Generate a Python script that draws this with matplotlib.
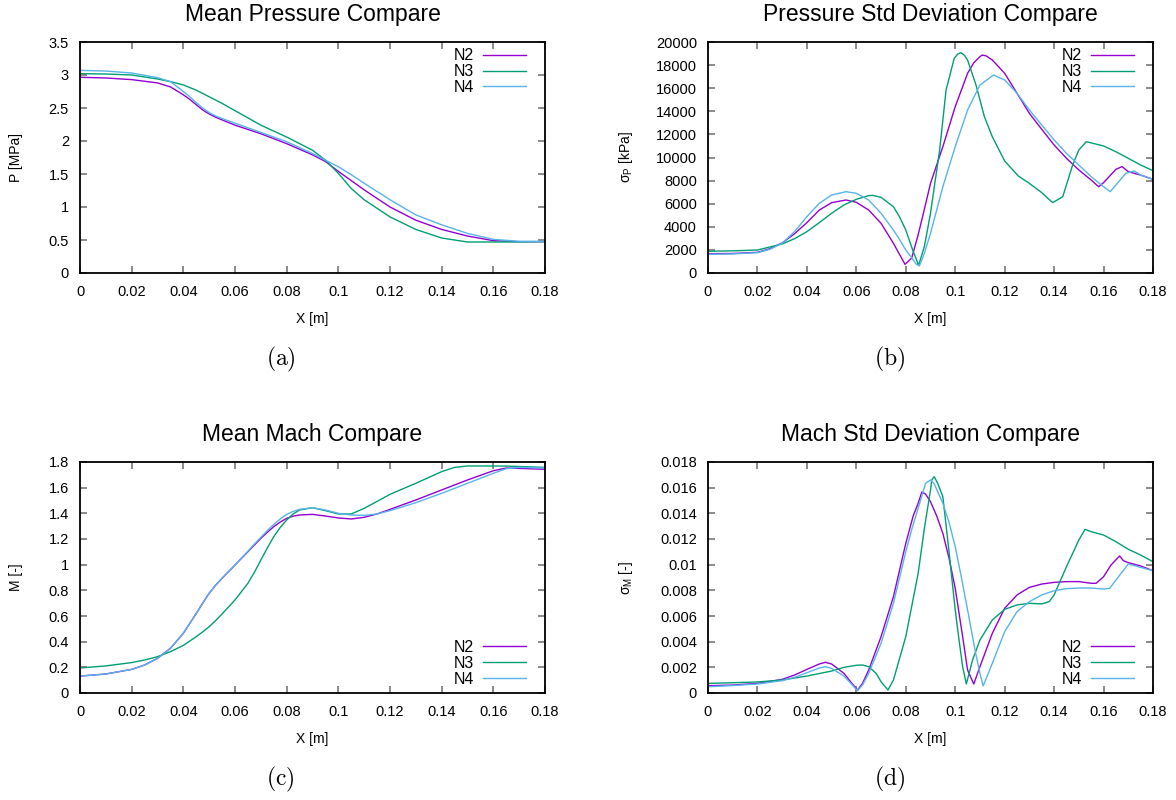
import matplotlib
matplotlib.use("Agg")
import matplotlib.pyplot as plt
from matplotlib.ticker import FormatStrFormatter, MultipleLocator

plt.rcParams['font.family'] = ['Liberation Sans', 'DejaVu Sans']
plt.rcParams['mathtext.fontset'] = 'custom'
plt.rcParams['mathtext.rm'] = 'Liberation Sans'
plt.rcParams['mathtext.it'] = 'Liberation Sans'

labels = ["N2", "N3", "N4"]
colors = ["#9400d3", "#009e73", "#56b4e9"]

# ---------- (a) Mean pressure [MPa] ----------
pa_x = [0, 0.01, 0.02, 0.03, 0.035, 0.04, 0.0425, 0.045, 0.0475, 0.05, 0.0525, 0.055, 0.06, 0.07,
        0.08, 0.09, 0.095, 0.1, 0.105, 0.11, 0.12, 0.13, 0.14, 0.15, 0.16, 0.17, 0.18]
pa_n2 = [2.965, 2.955, 2.93, 2.88, 2.82, 2.70, 2.63, 2.55, 2.47, 2.41, 2.36, 2.32, 2.24, 2.11,
         1.96, 1.79, 1.69, 1.54, 1.40, 1.26, 1.00, 0.80, 0.66, 0.56, 0.49, 0.475, 0.475]
pa_n3 = [3.02, 3.015, 3.00, 2.94, 2.90, 2.85, 2.81, 2.77, 2.72, 2.67, 2.62, 2.57, 2.46, 2.24,
         2.06, 1.86, 1.71, 1.51, 1.28, 1.11, 0.85, 0.66, 0.53, 0.47, 0.47, 0.47, 0.475]
pa_n4 = [3.07, 3.06, 3.03, 2.96, 2.90, 2.75, 2.67, 2.58, 2.50, 2.43, 2.38, 2.34, 2.27, 2.13,
         1.99, 1.81, 1.71, 1.61, 1.49, 1.36, 1.11, 0.88, 0.73, 0.60, 0.51, 0.48, 0.48]

# ---------- (b) Pressure std deviation [kPa] ----------
pb_x2 = [0, 0.01, 0.02, 0.025, 0.03, 0.035, 0.04, 0.045, 0.05, 0.0558, 0.06, 0.065, 0.07, 0.075,
         0.0775, 0.0797, 0.0824, 0.085, 0.0875, 0.09, 0.095, 0.1, 0.105, 0.1075, 0.11, 0.1109,
         0.1125, 0.115, 0.12, 0.125, 0.13, 0.135, 0.14, 0.145, 0.15, 0.155, 0.158, 0.16, 0.165,
         0.1675, 0.17, 0.175, 0.18]
pb_n2 = [1670, 1690, 1790, 2100, 2600, 3400, 4360, 5450, 6090, 6320, 6120, 5450, 4300, 2570,
         1600, 750, 1300, 3300, 5500, 7760, 10940, 14400, 17290, 18200, 18730, 18870,
         18800, 18440, 17290, 15560, 13820, 12440, 11080, 9930, 8920, 8050, 7470, 7820, 8980,
         9210, 8770, 8480, 8110]
pb_x3 = [0, 0.01, 0.02, 0.03, 0.035, 0.04, 0.045, 0.05, 0.055, 0.06, 0.065, 0.0667, 0.07, 0.075,
         0.0775, 0.08, 0.0828, 0.0852, 0.0875, 0.09, 0.0937, 0.0963, 0.0996, 0.101, 0.1023,
         0.1037, 0.105, 0.1084, 0.1118, 0.115, 0.12, 0.1255, 0.13, 0.135, 0.1375, 0.1395,
         0.1435, 0.1475, 0.15, 0.153, 0.16, 0.165, 0.17, 0.175, 0.18]
pb_n3 = [1880, 1920, 1990, 2510, 2970, 3580, 4360, 5170, 5890, 6380, 6700, 6720, 6550, 5740,
         4850, 3720, 1990, 660, 2280, 5170, 10650, 15840, 18590, 18950, 19080,
         18850, 18440, 16280, 13530, 11800, 9700, 8400, 7760, 6960, 6450, 6100,
         6610, 9350, 10650, 11370, 11000, 10500, 9930, 9350, 8860]
pb_x4 = [0, 0.01, 0.02, 0.025, 0.03, 0.035, 0.04, 0.045, 0.05, 0.0558, 0.06, 0.065, 0.07, 0.075,
         0.0775, 0.08, 0.0825, 0.0842, 0.0855, 0.0875, 0.09, 0.095, 0.1, 0.105, 0.11, 0.1155,
         0.12, 0.125, 0.13, 0.135, 0.14, 0.145, 0.15, 0.155, 0.16, 0.1627, 0.165, 0.169, 0.1725,
         0.175, 0.18]
pb_n4 = [1620, 1650, 1760, 2050, 2570, 3580, 4880, 6030, 6750, 7040, 6900, 6320, 5170, 3720,
         2900, 1990, 1300, 780, 610, 1700, 3430, 7470, 10940, 14110, 16280, 17140,
         16710, 15560, 14110, 12810, 11520, 10360, 9350, 8340, 7470, 7040, 7620, 8630, 8830,
         8480, 8110]

# ---------- (c) Mean Mach [-] ----------
mc_x = [0, 0.01, 0.02, 0.025, 0.03, 0.035, 0.04, 0.045, 0.0475, 0.05, 0.0525, 0.055, 0.06, 0.065,
        0.0675, 0.07, 0.0725, 0.075, 0.0775, 0.08, 0.0825, 0.085, 0.09, 0.095, 0.1, 0.105, 0.11,
        0.115, 0.12, 0.13, 0.14, 0.145, 0.15, 0.16, 0.165, 0.17, 0.18]
mc_n2 = [0.132, 0.148, 0.184, 0.218, 0.27, 0.348, 0.465, 0.62, 0.70, 0.777, 0.84, 0.894, 0.997,
         1.101, 1.153, 1.205, 1.252, 1.296, 1.332, 1.361, 1.378, 1.387, 1.392, 1.379, 1.364,
         1.356, 1.369, 1.395, 1.431, 1.504, 1.582, 1.621, 1.66, 1.732, 1.753, 1.75, 1.743]
mc_n3 = [0.195, 0.211, 0.237, 0.257, 0.283, 0.322, 0.371, 0.439, 0.476, 0.517, 0.564, 0.616,
         0.725, 0.855, 0.94, 1.036, 1.13, 1.218, 1.29, 1.348, 1.395, 1.426, 1.444, 1.421, 1.395,
         1.395, 1.439, 1.493, 1.548, 1.634, 1.725, 1.758, 1.769, 1.769, 1.768, 1.765, 1.758]
mc_n4 = [0.132, 0.148, 0.184, 0.218, 0.27, 0.348, 0.465, 0.62, 0.70, 0.777, 0.84, 0.894, 0.997,
         1.105, 1.16, 1.213, 1.265, 1.314, 1.356, 1.392, 1.415, 1.431, 1.444, 1.426, 1.40,
         1.387, 1.384, 1.395, 1.421, 1.483, 1.556, 1.595, 1.634, 1.712, 1.748, 1.758, 1.753]

# ---------- (d) Mach std deviation [-] ----------
md_x2 = [0, 0.01, 0.02, 0.03, 0.035, 0.04, 0.045, 0.0475, 0.05, 0.055, 0.058, 0.0605, 0.0625,
         0.065, 0.07, 0.075, 0.08, 0.083, 0.085, 0.0865, 0.088, 0.09, 0.0925, 0.095, 0.0975,
         0.1, 0.103, 0.105, 0.1075, 0.11, 0.115, 0.12, 0.125, 0.13, 0.135, 0.14, 0.145, 0.15,
         0.155, 0.157, 0.16, 0.163, 0.1665, 0.168, 0.17, 0.175, 0.18]
md_n2 = [0.00057, 0.00062, 0.00075, 0.00106, 0.0014, 0.00184, 0.00226, 0.00239, 0.00226, 0.00153,
         0.0008, 0.00023, 0.00075, 0.00179, 0.00439, 0.0075, 0.01166, 0.0138, 0.01478, 0.01566,
         0.0155, 0.01491, 0.0138, 0.01244, 0.0105, 0.00816, 0.00439, 0.00179, 0.0007, 0.00205,
         0.00465, 0.0066, 0.00764, 0.00823, 0.00849, 0.00862, 0.00868, 0.00868, 0.00855,
         0.00855, 0.00906, 0.00997, 0.01068, 0.01031, 0.01016, 0.0099, 0.00953]
md_x3 = [0, 0.01, 0.02, 0.03, 0.04, 0.05, 0.055, 0.06, 0.0625, 0.065, 0.068, 0.07, 0.0728,
         0.075, 0.08, 0.085, 0.0875, 0.09, 0.0905, 0.0915, 0.093, 0.095, 0.0975, 0.1, 0.1015,
         0.103, 0.1045, 0.107, 0.11, 0.115, 0.12, 0.125, 0.13, 0.135, 0.138, 0.14, 0.145, 0.15,
         0.1525, 0.155, 0.16, 0.165, 0.17, 0.175, 0.18]
md_n3 = [0.00075, 0.0008, 0.00086, 0.00101, 0.00132, 0.00171, 0.002, 0.00216, 0.00218, 0.00205,
         0.00153, 0.00088, 0.00023, 0.00101, 0.00439, 0.00932, 0.0128, 0.01582, 0.0166, 0.01686,
         0.0163, 0.0153, 0.011, 0.00647, 0.0042, 0.00205, 0.0007, 0.00257, 0.00413, 0.00569,
         0.00652, 0.00686, 0.00699, 0.00694, 0.00712, 0.00764, 0.00984, 0.01192, 0.01275,
         0.01257, 0.01231, 0.01179, 0.0112, 0.01075, 0.01023]
md_x4 = [0, 0.01, 0.02, 0.03, 0.035, 0.04, 0.045, 0.0475, 0.05, 0.055, 0.058, 0.0605, 0.0625,
         0.065, 0.07, 0.075, 0.08, 0.0825, 0.085, 0.088, 0.09, 0.0915, 0.095, 0.0975, 0.1,
         0.1025, 0.105, 0.108, 0.11, 0.1113, 0.115, 0.12, 0.125, 0.13, 0.135, 0.14, 0.145, 0.15,
         0.155, 0.16, 0.1625, 0.165, 0.17, 0.175, 0.18]
md_n4 = [0.00049, 0.00058, 0.0007, 0.00096, 0.00122, 0.00158, 0.00195, 0.00205, 0.00192,
         0.00132, 0.0007, 0.00018, 0.00062, 0.00153, 0.00387, 0.00699, 0.01101, 0.0128,
         0.01439, 0.01634, 0.0166, 0.0163, 0.01478, 0.0133, 0.0114, 0.009, 0.00647, 0.00335,
         0.00153, 0.00055, 0.00231, 0.00478, 0.00634, 0.00712, 0.00764, 0.00797, 0.00813,
         0.00818, 0.00818, 0.0081, 0.00816, 0.0088, 0.01005, 0.00979, 0.00953]

panels = [
    dict(rect=[80, 42, 545, 273], title="Mean Pressure Compare", ylabel="P [MPa]",
         series=[(pa_x, pa_n2), (pa_x, pa_n3), (pa_x, pa_n4)], ylim=(0, 3.5), ystep=0.5,
         legloc="upper right", tag="(a)", ylab_off=64, tag_dx=-32),
    dict(rect=[708, 42, 1153, 273], title="Pressure Std Deviation Compare",
         ylabel=r"$\sigma_P$ [kPa]",
         series=[(pb_x2, pb_n2), (pb_x3, pb_n3), (pb_x4, pb_n4)], ylim=(0, 20000), ystep=2000,
         legloc="upper right", tag="(b)", ylab_off=82, tag_dx=-41),
    dict(rect=[80, 462, 545, 693], title="Mean Mach Compare", ylabel="M [-]",
         series=[(mc_x, mc_n2), (mc_x, mc_n3), (mc_x, mc_n4)], ylim=(0, 1.8), ystep=0.2,
         legloc="lower right", tag="(c)", ylab_off=64, tag_dx=-32),
    dict(rect=[708, 462, 1153, 693], title="Mach Std Deviation Compare",
         ylabel=r"$\sigma_M$ [-]",
         series=[(md_x2, md_n2), (md_x3, md_n3), (md_x4, md_n4)], ylim=(0, 0.018), ystep=0.002,
         legloc="lower right", tag="(d)", ylab_off=82, tag_dx=-41),
]

W, H = 1176, 800
fig = plt.figure(figsize=(W / 100, H / 100), dpi=100)

for i, p in enumerate(panels):
    l, t, r, b = p["rect"]
    aw, ah = r - l, b - t
    ax = fig.add_axes([l / W, 1 - b / H, aw / W, ah / H])
    for (xs, ys), lab, c in zip(p["series"], labels, colors):
        ax.plot(xs, ys, color=c, lw=1.0, label=lab)
    ax.set_xlim(0, 0.18)
    ax.set_ylim(*p["ylim"])
    ax.xaxis.set_major_locator(MultipleLocator(0.02))
    ax.yaxis.set_major_locator(MultipleLocator(p["ystep"]))
    ax.xaxis.set_major_formatter(FormatStrFormatter("%g"))
    ax.yaxis.set_major_formatter(FormatStrFormatter("%g"))
    ax.tick_params(direction="in", length=5, width=1.2, color="#777777", labelsize=10.5,
                   labelcolor="black", top=True, right=True)
    ax.tick_params(axis="x", pad=9)
    ax.tick_params(axis="y", pad=8)
    for s in ax.spines.values():
        s.set_linewidth(1.3)
        s.set_color("black")
    ax.set_title(p["title"], fontsize=16.5, pad=0, y=1 + 28 / ah, va="center")
    ax.set_xlabel("X [m]", fontsize=10)
    ax.xaxis.set_label_coords(0.5, -46 / ah)
    ax.xaxis.label.set_va("center")
    ax.set_ylabel(p["ylabel"], fontsize=10)
    ax.yaxis.set_label_coords(-p["ylab_off"] / aw, 0.5)
    ax.yaxis.label.set_va("center")
    ax_x = 1 - 12.6 / aw
    if p["legloc"] == "upper right":
        ax.legend(loc="upper right", frameon=False, markerfirst=False, fontsize=11.5,
                  handlelength=2.7, handletextpad=0.55, labelspacing=0.05,
                  borderaxespad=0.0, bbox_to_anchor=(ax_x, 1.0))
    else:
        ax.legend(loc="lower right", frameon=False, markerfirst=False, fontsize=11.5,
                  handlelength=2.7, handletextpad=0.55, labelspacing=0.05,
                  borderaxespad=0.0, bbox_to_anchor=(ax_x, 0.0))
    fig.text(((l + r) / 2 + p["tag_dx"]) / W, 1 - (b + 86) / H, r"$\mathrm{" + p["tag"] + "}$",
             fontsize=17, ha="center", va="center", math_fontfamily="cm")

fig.savefig("out.png", dpi=100)
